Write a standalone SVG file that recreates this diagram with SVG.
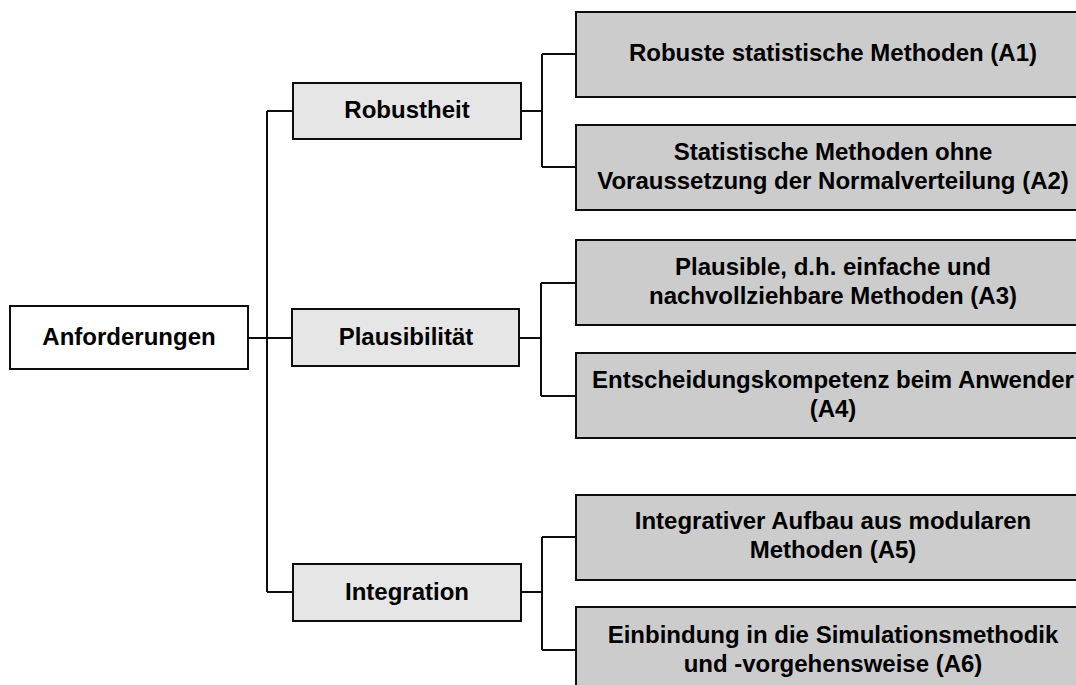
<svg xmlns="http://www.w3.org/2000/svg" width="1076" height="685" viewBox="0 0 1076 685">
  <style>
    .box { stroke: #0d0d0d; stroke-width: 2; }
    .root { fill: #ffffff; }
    .mid { fill: #e6e6e6; }
    .leaf { fill: #cccccc; }
    .lbl { font-family: "Liberation Sans", Arial, sans-serif; font-size: 24px; font-weight: bold; fill: #000000; text-anchor: middle; }
    .conn { fill: none; stroke: #0d0d0d; stroke-width: 2; }
  </style>

  <!-- tree connectors -->
  <g id="connectors">
    <path class="conn" d="M248 338 H292"/>
    <path class="conn" d="M267 111 V592"/>
    <path class="conn" d="M267 111 H293"/>
    <path class="conn" d="M267 592 H293"/>
    <path class="conn" d="M521 111 H542 M542 54 V167 M542 54 H576 M542 167 H576"/>
    <path class="conn" d="M519 338 H541 M541 283 V396 M541 283 H576 M541 396 H576"/>
    <path class="conn" d="M521 592 H542 M542 537 V650 M542 537 H576 M542 650 H576"/>
  </g>

  <!-- root -->
  <g id="anforderungen">
    <rect class="box root" x="10" y="306" width="238" height="63"/>
    <text class="lbl" x="129" y="345">Anforderungen</text>
  </g>

  <!-- second level -->
  <g id="robustheit">
    <rect class="box mid" x="293" y="83" width="228" height="56"/>
    <text class="lbl" x="407" y="118">Robustheit</text>
  </g>
  <g id="plausibilitaet">
    <rect class="box mid" x="292" y="309" width="227" height="57"/>
    <text class="lbl" x="406" y="345">Plausibilität</text>
  </g>
  <g id="integration">
    <rect class="box mid" x="293" y="564" width="228" height="57"/>
    <text class="lbl" x="407" y="600">Integration</text>
  </g>

  <!-- requirements A1..A6 -->
  <g id="a1">
    <rect class="box leaf" x="576" y="12" width="514" height="85"/>
    <text class="lbl" x="833" y="61">Robuste statistische Methoden (A1)</text>
  </g>
  <g id="a2">
    <rect class="box leaf" x="576" y="125" width="514" height="85"/>
    <text class="lbl" x="833" y="160">Statistische Methoden ohne</text>
    <text class="lbl" x="833" y="189">Voraussetzung der Normalverteilung (A2)</text>
  </g>
  <g id="a3">
    <rect class="box leaf" x="576" y="240" width="514" height="85"/>
    <text class="lbl" x="833" y="275">Plausible, d.h. einfache und</text>
    <text class="lbl" x="833" y="304">nachvollziehbare Methoden (A3)</text>
  </g>
  <g id="a4">
    <rect class="box leaf" x="576" y="353" width="514" height="85"/>
    <text class="lbl" x="833" y="388">Entscheidungskompetenz beim Anwender</text>
    <text class="lbl" x="833" y="417">(A4)</text>
  </g>
  <g id="a5">
    <rect class="box leaf" x="576" y="495" width="514" height="85"/>
    <text class="lbl" x="833" y="529">Integrativer Aufbau aus modularen</text>
    <text class="lbl" x="833" y="558">Methoden (A5)</text>
  </g>
  <g id="a6">
    <rect class="box leaf" x="576" y="607" width="514" height="87"/>
    <text class="lbl" x="833" y="643">Einbindung in die Simulationsmethodik</text>
    <text class="lbl" x="833" y="672">und -vorgehensweise (A6)</text>
  </g>
</svg>
